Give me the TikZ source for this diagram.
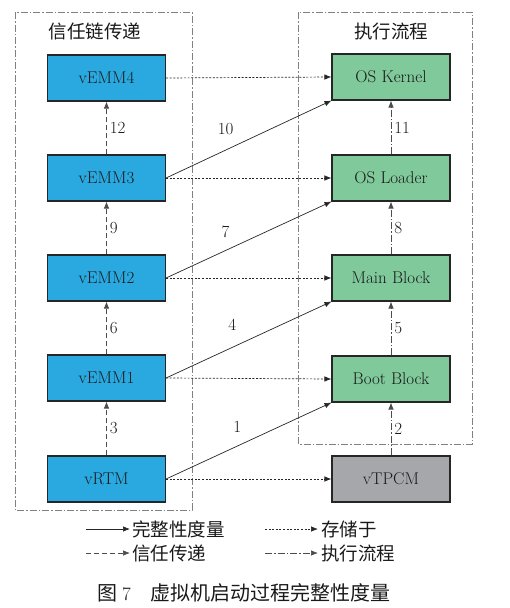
\documentclass[tikz,border=0pt]{standalone}
\usepackage{fontspec}
\newfontfamily\cjk{Noto Sans CJK SC}
\usetikzlibrary{arrows.meta}

\definecolor{vmblue}{HTML}{29A9E0}
\definecolor{flowgreen}{HTML}{7FC99B}
\definecolor{tpcmgray}{HTML}{A6A7AA}
\definecolor{framegray}{HTML}{808080}

\tikzset{
    box/.style={draw=black!85, line width=1.1pt, minimum width=118pt, minimum height=46pt,
        inner sep=0pt, text=black!90, font=\rmfamily\fontsize{17}{17}\selectfont},
    vmbox/.style={box, fill=vmblue},
    flowbox/.style={box, fill=flowgreen},
    tpcmbox/.style={box, fill=tpcmgray},
    tip/.style={-{Latex[length=7pt,width=5.5pt]}},
    measure/.style={tip, line width=0.7pt, black!85},
    store/.style={tip, line width=0.7pt, black!85, dash pattern=on 2pt off 1.6pt},
    trust/.style={tip, line width=0.7pt, black!70, dash pattern=on 5pt off 3pt},
    flow/.style={tip, line width=0.7pt, black!70, dash pattern=on 7pt off 2pt on 1.5pt off 2pt},
    frame/.style={framegray, line width=0.8pt, dash pattern=on 7pt off 2pt on 1.5pt off 2pt},
    num/.style={font=\rmfamily\fontsize{17}{17}\selectfont, text=black!90, inner sep=1pt},
    cn/.style={font=\cjk\fontsize{18.5}{18.5}\selectfont, text=black!90, inner sep=0pt}
}

\begin{document}
\begin{tikzpicture}[x=1pt, y=-1pt]

    \useasboundingbox (0,0) rectangle (509,608);

    % frames
    \draw [frame] (15,12) rectangle (192,510);
    \draw [frame] (298,12) rectangle (472,444);
    \node [cn] (tTrust) at (95,31) {信任链传递};
    \node [cn] (tFlow) at (391,31) {执行流程};

    % chain of trust
    \node [vmbox] (vEMM4) at (106.5,78) {vEMM4};
    \node [vmbox] (vEMM3) at (106.5,178) {vEMM3};
    \node [vmbox] (vEMM2) at (106.5,278) {vEMM2};
    \node [vmbox] (vEMM1) at (106.5,378) {vEMM1};
    \node [vmbox] (vRTM) at (106.5,479) {vRTM};

    % boot flow
    \node [flowbox] (kernel) at (391,77) {OS Kernel};
    \node [flowbox] (loader) at (391,178) {OS Loader};
    \node [flowbox] (mainblk) at (391,278) {Main Block};
    \node [flowbox] (bootblk) at (391,379) {Boot Block};
    \node [tpcmbox] (vTPCM) at (391,479) {vTPCM};

    % trust transfer
    \draw [trust] (vRTM) -- node [num, right=2pt] {3} (vEMM1);
    \draw [trust] (vEMM1) -- node [num, right=2pt] {6} (vEMM2);
    \draw [trust] (vEMM2) -- node [num, right=2pt] {9} (vEMM3);
    \draw [trust] (vEMM3) -- node [num, right=2pt] {12} (vEMM4);

    % execution flow
    \draw [flow] (vTPCM) -- node [num, right=2pt] {2} (bootblk);
    \draw [flow] (bootblk) -- node [num, right=2pt] {5} (mainblk);
    \draw [flow] (mainblk) -- node [num, right=2pt] {8} (loader);
    \draw [flow] (loader) -- node [num, right=2pt] {11} (kernel);

    % stored in
    \draw [store] (vRTM.east) -- (vTPCM.west);
    \draw [store] (vEMM1.east) -- (bootblk.west);
    \draw [store] (vEMM2.east) -- (mainblk.west);
    \draw [store] (vEMM3.east) -- (loader.west);
    \draw [store] (vEMM4.east) -- (kernel.west);

    % integrity measurement
    \draw [measure] (vRTM.east) -- node [num, pos=0.43, yshift=19pt] {1} (bootblk.south west);
    \draw [measure] (vEMM1.east) -- node [num, pos=0.4, yshift=23pt] {4} (mainblk.south west);
    \draw [measure] (vEMM2.east) -- node [num, pos=0.36, yshift=19pt] {7} (loader.south west);
    \draw [measure] (vEMM3.east) -- node [num, pos=0.36, yshift=21pt] {10} (kernel.south west);

    % legend
    \coordinate (lgA1) at (86,529);
    \coordinate (lgA2) at (130,529);
    \coordinate (lgB1) at (86,553);
    \coordinate (lgB2) at (130,553);
    \coordinate (lgC1) at (265,529);
    \coordinate (lgC2) at (318,529);
    \coordinate (lgD1) at (265,553);
    \coordinate (lgD2) at (318,553);
    \draw [measure] (lgA1) -- (lgA2);
    \draw [trust] (lgB1) -- (lgB2);
    \draw [store] (lgC1) -- (lgC2);
    \draw [flow] (lgD1) -- (lgD2);
    \node [cn, anchor=west] (lgA) at (132,529) {完整性度量};
    \node [cn, anchor=west] (lgB) at (132,553) {信任传递};
    \node [cn, anchor=west] (lgC) at (321,529) {存储于};
    \node [cn, anchor=west] (lgD) at (321,553) {执行流程};

    % caption
    \node [cn, anchor=west, font=\cjk\fontsize{20}{20}\selectfont] (caption) at (97,593)
        {图\hspace{5pt}{\rmfamily\fontsize{19}{19}\selectfont 7}\hspace{20pt}虚拟机启动过程完整性度量};

\end{tikzpicture}
\end{document}
